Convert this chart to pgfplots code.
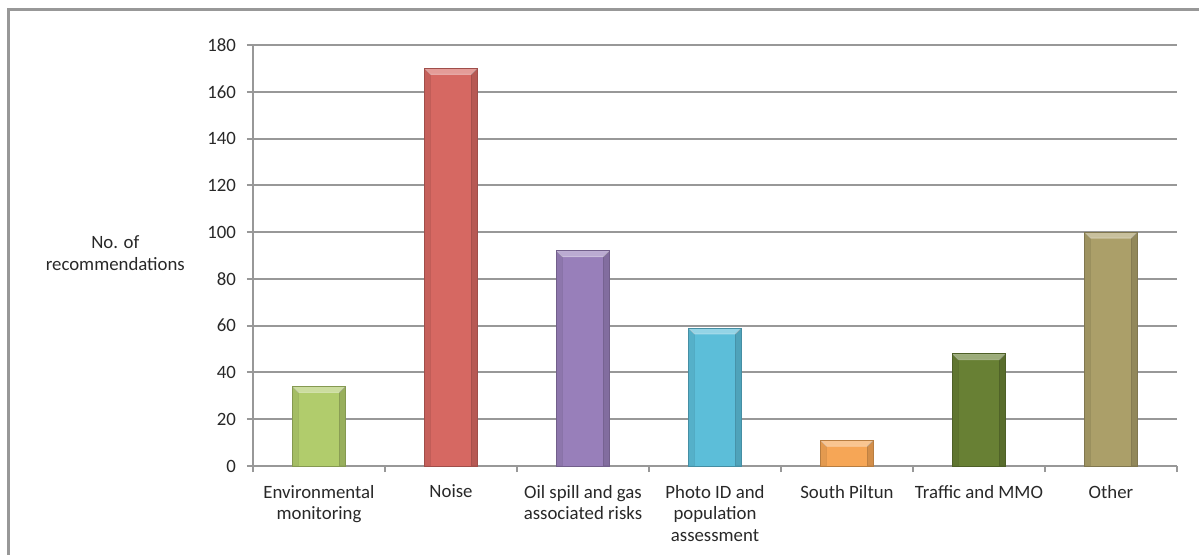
\documentclass[border=0pt]{standalone}
\usepackage{pgfplots}
\pgfplotsset{compat=1.18}
\usepackage{fontspec}
\setmainfont{Carlito}

\definecolor{gridgray}{RGB}{152,152,152}
\definecolor{txt}{RGB}{40,40,40}
\definecolor{cEnv}{RGB}{177,204,108}
\definecolor{cNoise}{RGB}{214,104,98}
\definecolor{cOil}{RGB}{152,127,186}
\definecolor{cPhoto}{RGB}{92,190,217}
\definecolor{cSouth}{RGB}{246,166,86}
\definecolor{cTraffic}{RGB}{104,128,52}
\definecolor{cOther}{RGB}{171,159,105}

\newcommand{\chartfont}{\fontsize{9.4bp}{10.8bp}\selectfont}

\tikzset{
  bevel/.style={path picture={
    \fill[path picture={}, white, opacity=0.35]
      (path picture bounding box.north west) -- (path picture bounding box.north east)
      -- ([xshift=-3bp,yshift=-3bp]path picture bounding box.north east)
      -- ([xshift=3bp,yshift=-3bp]path picture bounding box.north west) -- cycle;
    \fill[path picture={}, black, opacity=0.14]
      (path picture bounding box.north east) -- ([xshift=-3bp,yshift=-3bp]path picture bounding box.north east)
      -- ([xshift=-3bp]path picture bounding box.south east) -- (path picture bounding box.south east) -- cycle;
    \fill[path picture={}, black, opacity=0.07]
      (path picture bounding box.north west) -- ([xshift=3bp,yshift=-3bp]path picture bounding box.north west)
      -- ([xshift=3bp]path picture bounding box.south west) -- (path picture bounding box.south west) -- cycle;
  }}
}

\begin{document}
\begin{tikzpicture}
\useasboundingbox (0,0) rectangle (599.5bp,277.5bp);
% outer chart frame
\begin{scope}
  \clip (0,0) rectangle (599.5bp,277.5bp);
  \draw[gridgray, line width=1.5bp] (4bp,-10bp) -- (4bp,272.5bp) -- (610bp,272.5bp);
\end{scope}
\begin{axis}[
  at={(126.5bp,44.5bp)}, anchor=south west,
  scale only axis, width=462bp, height=210.5bp,
  xmin=-0.5, xmax=6.5, ymin=0, ymax=180,
  axis x line*=bottom, axis y line*=left,
  axis line style={gridgray, line width=1bp},
  ymajorgrids, grid style={gridgray, line width=1bp},
  ytick={0,20,...,180},
  xtick={0,...,6},
  minor xtick={-0.5,0.5,...,6.5},
  tick align=outside,
  major tick length=3bp, minor tick length=3bp,
  major x tick style={draw=none},
  every tick/.style={gridgray, line width=1bp},
  minor x tick style={gridgray, line width=1bp},
  /pgf/number format/assume math mode=true,
  xticklabels={
    Environmental\\monitoring,
    Noise,
    Oil spill and gas\\associated risks,
    Photo ID and\\population\\assessment,
    South Piltun,
    Traffic and MMO,
    Other},
  xticklabel style={align=center, text=txt, font=\chartfont, yshift=-3bp},
  yticklabel style={text=txt, font=\chartfont, xshift=-2bp},
  ylabel={No. of\\recommendations},
  every axis y label/.style={at={(axis description cs:-0.149,0.506)}, anchor=center,
    rotate=0, align=center, text=txt, font=\chartfont},
  clip=false,
]
\addplot[ybar, bar width=26.5bp, bar shift=0pt, fill=cEnv, draw=cEnv!75!black, line width=0.4bp, bevel] coordinates {(0,34)};
\addplot[ybar, bar width=26.5bp, bar shift=0pt, fill=cNoise, draw=cNoise!75!black, line width=0.4bp, bevel] coordinates {(1,170)};
\addplot[ybar, bar width=26.5bp, bar shift=0pt, fill=cOil, draw=cOil!75!black, line width=0.4bp, bevel] coordinates {(2,92)};
\addplot[ybar, bar width=26.5bp, bar shift=0pt, fill=cPhoto, draw=cPhoto!75!black, line width=0.4bp, bevel] coordinates {(3,59)};
\addplot[ybar, bar width=26.5bp, bar shift=0pt, fill=cSouth, draw=cSouth!75!black, line width=0.4bp, bevel] coordinates {(4,11)};
\addplot[ybar, bar width=26.5bp, bar shift=0pt, fill=cTraffic, draw=cTraffic!75!black, line width=0.4bp, bevel] coordinates {(5,48)};
\addplot[ybar, bar width=26.5bp, bar shift=0pt, fill=cOther, draw=cOther!75!black, line width=0.4bp, bevel] coordinates {(6,100)};
\end{axis}
\end{tikzpicture}
\end{document}
